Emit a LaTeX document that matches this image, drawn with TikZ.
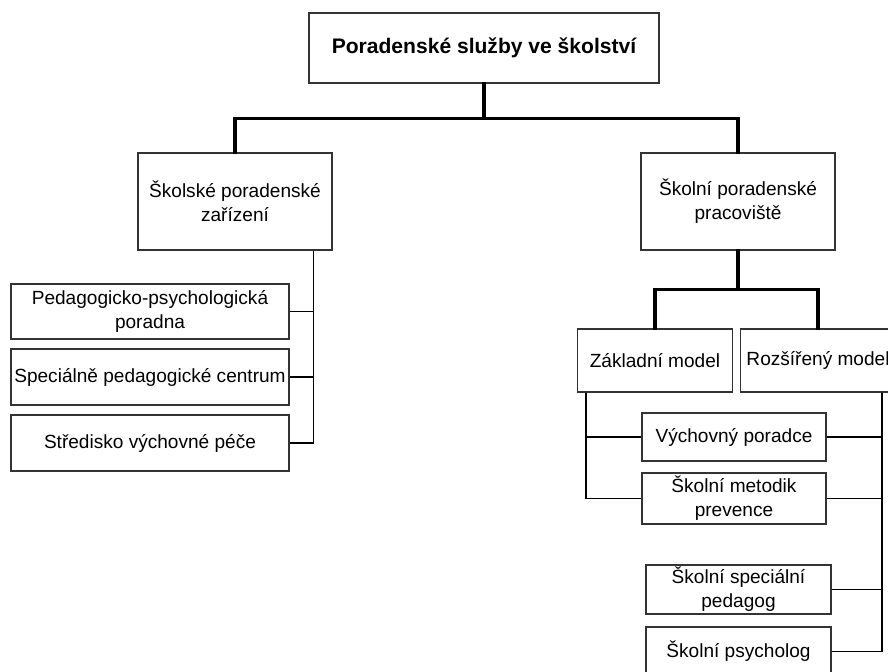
\documentclass[tikz,border=0pt]{standalone}
\usepackage{fontspec}
\setmainfont{Liberation Sans}
\usepackage{tikz}

\tikzset{
  box/.style 2 args={draw=black!80, line width=1.1pt, align=center, inner sep=0pt,
    minimum width=#1*0.75pt, minimum height=#2*0.75pt,
    font=\fontsize{14.3}{18}\selectfont},
  trunk/.style={line width=2.3pt, line cap=rect},
  link/.style={line width=1.1pt}
}

\begin{document}
\begin{tikzpicture}[x=0.75pt,y=-0.75pt]
  \useasboundingbox (0,0) rectangle (888,671);
  \clip (0,0) rectangle (888,671);

  % hlavni uroven
  \node[box={350}{70}, font=\fontsize{15.8}{18}\selectfont\bfseries] (top) at (484,48) {Poradenské služby ve školství};
  \node[box={194}{97}] (spz) at (235,201.5) {Školské poradenské\\zařízení};
  \node[box={194}{97}] (spp) at (738,201.5) {Školní poradenské\\pracoviště};

  % skolska poradenska zarizeni
  \node[box={278}{55}] (ppp) at (150,311.5) {Pedagogicko-psychologická\\poradna};
  \node[box={278}{56}] (spc) at (150,377) {Speciálně pedagogické centrum};
  \node[box={278}{56}] (svp) at (150,443) {Středisko výchovné péče};

  % modely
  \node[box={155}{63}] (zaklad) at (655,360.5) {Základní model};
  \node[box={155}{63}] (rozsir) at (818,360.5) {Rozšířený model};

  % pracovnici
  \node[box={184}{48}] (vp) at (734,437) {Výchovný poradce};
  \node[box={184}{51}] (smp) at (734,498.5) {Školní metodik\\prevence};
  \node[box={185}{49}] (ssp) at (738.5,589.5) {Školní speciální\\pedagog};
  \node[box={185}{49}] (sps) at (738.5,651.5) {Školní psycholog};

  \draw[trunk] (top.south) -- ++(0,35) coordinate (tb);
  \draw[trunk] (spz.north) |- (tb) -| (spp.north);
  \draw[trunk] (spp.south) -- ++(0,39) coordinate (rb);
  \draw[trunk] (zaklad.north) |- (rb) -| (rozsir.north);

  \draw[link] ([xshift=-14.25pt]spz.south east) |- (svp.east);
  \draw[link] ([xshift=-14.25pt]spz.south east) |- (ppp.east);
  \draw[link] ([xshift=-14.25pt]spz.south east) |- (spc.east);

  \draw[link] ([xshift=6.75pt]zaklad.south west) |- (smp.west);
  \draw[link] ([xshift=6.75pt]zaklad.south west) |- (vp.west);

  \coordinate (rv) at ([xshift=48pt]rozsir.south);
  \draw[link] (rv) |- (sps.east);
  \draw[link] (rv) |- (vp.east);
  \draw[link] (rv) |- (smp.east);
  \draw[link] (rv) |- (ssp.east);
\end{tikzpicture}
\end{document}
